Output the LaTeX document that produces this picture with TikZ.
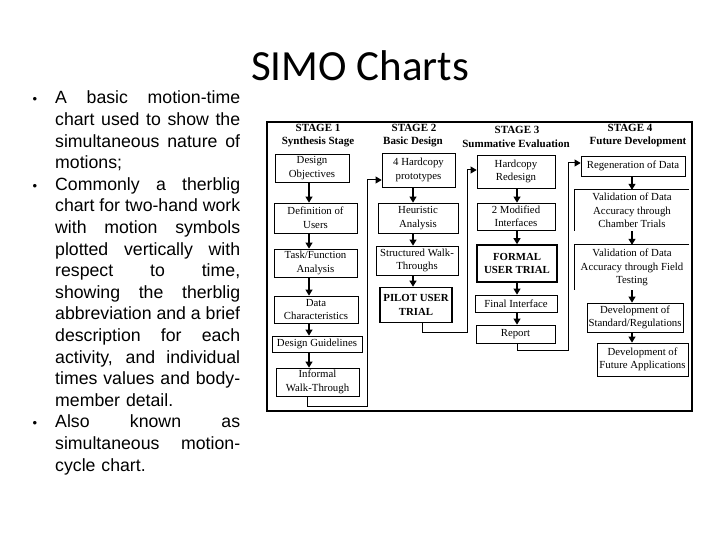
\documentclass[tikz,border=0pt]{standalone}
\usepackage{fontspec}
\setmainfont{Liberation Serif}
\newfontfamily\slidefont{Liberation Sans}
\newfontfamily\titlefont{Carlito}
\usetikzlibrary{arrows.meta}
\newcommand\jl[1]{\hbox to 185pt{\spaceskip=0.278em plus 1fil\relax #1}}
\newcommand\bl{\leavevmode\llap{{\fontsize{13}{13}\selectfont\textbullet}\hspace{18pt}}}
\newcommand\chartfnt{\fontsize{10.8}{13.5}\selectfont}
\begin{document}
\begin{tikzpicture}[x=1pt,y=-1pt,
  box/.style={draw, line width=0.8pt, inner sep=0pt, align=center, font=\chartfnt},
  openbox/.style={inner sep=0pt, align=center, font=\chartfnt},
  boldbox/.style={box, line width=1.6pt, font=\chartfnt\bfseries},
  hdr/.style={font=\fontsize{11}{13}\selectfont\bfseries, inner sep=0pt},
  arr/.style={line width=1.1pt, -{Triangle[length=6pt,width=7pt]}},
  conn/.style={line width=1pt, -{Triangle[length=6pt,width=7pt]}}]
\useasboundingbox (0,0) rectangle (720,540);
\fill[white] (0,0) rectangle (720,540);

% title
\node[font=\titlefont\fontsize{43}{50}\selectfont, anchor=base, inner sep=0pt] (title) at (360,81) {SIMO Charts};

% bullet text
\node[anchor=base west, inner sep=0pt, text width=185pt,
      font=\slidefont\fontsize{17.7}{21.6}\selectfont] (bullets) at (55,104) {%
\bl\jl{A basic motion-time}\newline
\jl{chart used to show the}\newline
\jl{simultaneous nature of}\newline
motions;\newline
\bl\jl{Commonly a therblig}\newline
\jl{chart for two-hand work}\newline
\jl{with motion symbols}\newline
\jl{plotted vertically with}\newline
\jl{respect to time,}\newline
\jl{showing the therblig}\newline
\jl{abbreviation and a brief}\newline
\jl{description for each}\newline
\jl{activity, and individual}\newline
\jl{times values and body-}\newline
member detail.\newline
\bl\jl{Also known as}\newline
\jl{simultaneous motion-}\newline
cycle chart.};

% frame
\node[draw, line width=2pt, inner sep=0pt, minimum width=425pt, minimum height=289pt] (frame) at (479.5,266.5) {};

% headers
\node[hdr] (s1) at (318,128) {STAGE 1};
\node[hdr] (s1b) at (318,142) {Synthesis Stage};
\node[hdr] (s2) at (414,128) {STAGE 2};
\node[hdr] (s2b) at (413,142) {Basic Design};
\node[hdr] (s3) at (517,130) {STAGE 3};
\node[hdr] (s3b) at (516,144) {Summative Evaluation};
\node[hdr] (s4) at (630,128) {STAGE 4};
\node[hdr] (s4b) at (638,142) {Future Development};

% column 1
\node[box, minimum width=74pt, minimum height=28pt] (a1) at (312,168) {Design\\Objectives};
\node[box, minimum width=83pt, minimum height=30pt] (a2) at (315.5,218) {Definition of\\Users};
\node[box, minimum width=83pt, minimum height=28pt] (a3) at (315.5,263) {Task/Function\\Analysis};
\node[box, minimum width=84pt, minimum height=27pt] (a4) at (316,309.5) {Data\\Characteristics};
\node[box, minimum width=90pt, minimum height=16pt] (a5) at (317,344) {Design Guidelines};
\node[box, minimum width=83pt, minimum height=28pt] (a6) at (317.5,382) {Informal\\Walk-Through};

% column 2
\node[box, minimum width=73pt, minimum height=34pt] (b1) at (418.5,170) {4 Hardcopy\\prototypes};
\node[box, minimum width=80pt, minimum height=30pt] (b2) at (418,218) {Heuristic\\Analysis};
\node[box, minimum width=82pt, minimum height=29pt] (b3) at (417,260.5) {Structured Walk-\\Throughs};
\node[boldbox, minimum width=72pt, minimum height=35pt] (b4) at (416,305) {PILOT USER\\TRIAL};

% column 3
\node[box, minimum width=78pt, minimum height=33pt] (c1) at (516,171.5) {Hardcopy\\Redesign};
\node[box, minimum width=78pt, minimum height=27pt] (c2) at (516,216.5) {2 Modified\\Interfaces};
\node[boldbox, minimum width=80pt, minimum height=37pt] (c3) at (517,263.5) {FORMAL\\USER TRIAL};
\node[box, minimum width=82pt, minimum height=17pt] (c4) at (516,303.5) {Final Interface};
\node[box, minimum width=79pt, minimum height=18pt] (c5) at (515.5,334) {Report};

% column 4
\node[box, minimum width=104pt, minimum height=20pt] (d1) at (633,166) {Regeneration of Data};
\node[openbox, minimum width=114pt, minimum height=41pt] (d2) at (632,210.5) {Validation of Data\\Accuracy through\\Chamber Trials};
\node[openbox, minimum width=114pt, minimum height=45pt] (d3) at (632,267.5) {Validation of Data\\Accuracy through Field\\Testing};
\node[box, minimum width=96pt, minimum height=29pt] (d4) at (635,317.5) {Development of\\Standard/Regulations};
\node[box, minimum width=91pt, minimum height=33pt] (d5) at (642.5,359.5) {Development of\\Future Applications};
\draw[line width=0.8pt] (d2.north east) -- (d2.north west) -- (d2.south west);
\draw[line width=0.8pt] (d3.north east) -- (d3.north west) -- (d3.south west);

% column arrow positions
\coordinate (k1) at (309,0);
\coordinate (k2) at (413,0);
\coordinate (k3) at (517,0);
\coordinate (k4) at (632,0);

\draw[arr] (a1.south -| k1) -- (a2.north -| k1);
\draw[arr] (a2.south -| k1) -- (a3.north -| k1);
\draw[arr] (a3.south -| k1) -- (a4.north -| k1);
\draw[arr] (a4.south -| k1) -- (a5.north -| k1);
\draw[arr] (a5.south -| k1) -- (a6.north -| k1);

\draw[arr] (b1.south -| k2) -- (b2.north -| k2);
\draw[arr] (b2.south -| k2) -- (b3.north -| k2);
\draw[arr] (b3.south -| k2) -- (b4.north -| k2);

\draw[arr] (c1.south -| k3) -- (c2.north -| k3);
\draw[arr] (c2.south -| k3) -- (c3.north -| k3);
\draw[arr] (c3.south -| k3) -- (c4.north -| k3);
\draw[arr] (c4.south -| k3) -- (c5.north -| k3);

\draw[arr] (d1.south -| k4) -- (d2.north -| k4);
\draw[arr] (d2.south -| k4) -- (d3.north -| k4);
\draw[arr] (d3.south -| k4) -- (d4.north -| k4);
\draw[arr] (d4.south -| k4) -- (d5.north -| k4);

% stage connectors
\coordinate (p1) at (307,406);
\coordinate (q1) at (367,406);
\coordinate (r1) at (367,180);
\draw[conn] (a6.south -| p1) -- (p1) -- (q1) -- (r1) -- (b1.west |- r1);

\coordinate (p2) at (422,332);
\coordinate (q2) at (467,332);
\coordinate (r2) at (467,170);
\draw[conn] (b4.south -| p2) -- (p2) -- (q2) -- (r2) -- (c1.west |- r2);

\coordinate (p3) at (517,350);
\coordinate (q3) at (568,350);
\coordinate (r3) at (568,163);
\draw[conn] (c5.south -| p3) -- (p3) -- (q3) -- (r3) -- (d1.west |- r3);
\end{tikzpicture}
\end{document}
